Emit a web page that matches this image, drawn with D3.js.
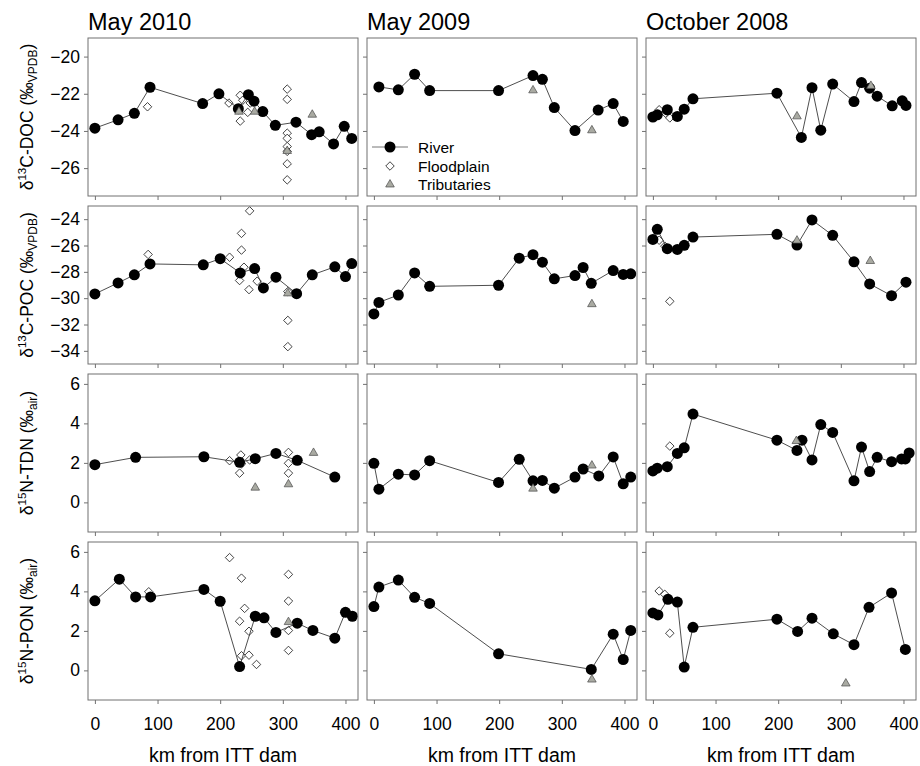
<!DOCTYPE html>
<html>
<head>
<meta charset="utf-8">
<script src="https://cdn.jsdelivr.net/npm/d3@7"></script>
<style>
  body { margin: 0; background: #fff; }
  svg { display: block; font-family: "Liberation Sans", Arial, sans-serif; }
</style>
</head>
<body>
<svg id="chart" width="920" height="766"></svg>
<script>
// Sampling campaigns (columns) and isotope variables (rows)
const campaigns = ["May 2010", "May 2009", "October 2008"];
const xTicks = [0, 100, 200, 300, 400];
const docTicks = [-20, -22, -24, -26];
const pocTicks = [-24, -26, -28, -30, -32, -34];
const nTicks = [0, 2, 4, 6];

// δ13C-DOC, [km, value]
const docRiver2010 = [[0,-23.85],[37,-23.4],[63,-23.05],[88,-21.65],[172,-22.53],[198,-22.0],[229,-22.8],[245,-22.05],[254,-22.4],[268,-22.96],[288,-23.7],[321,-23.53],[346,-24.2],[358,-24.05],[381,-24.7],[398,-23.75],[410,-24.4]];
const docFlood2010 = [[84,-22.7],[214,-22.5],[232,-22.08],[236,-22.35],[244,-23.0],[248,-22.5],[232,-23.47],[307,-21.75],[307,-22.3],[307,-24.12],[307,-24.4],[307,-24.84],[307,-25.1],[307,-25.77],[307,-26.63]];
const docTrib2010 = [[230,-22.94],[255,-22.94],[307,-25.05],[347,-23.1]];
const docRiver2009 = [[8,-21.63],[39,-21.79],[65,-20.95],[89,-21.83],[199,-21.83],[254,-21.02],[269,-21.22],[288,-22.74],[321,-23.98],[358,-22.88],[382,-22.53],[398,-23.49]];
const docFlood2009 = [];
const docTrib2009 = [[254,-21.79],[348,-23.94]];
const docRiver2008 = [[0,-23.25],[7,-23.13],[23,-22.86],[39,-23.22],[50,-22.83],[64,-22.27],[198,-21.97],[237,-24.35],[254,-21.67],[268,-23.96],[287,-21.48],[321,-22.42],[333,-21.4],[346,-21.7],[358,-22.13],[382,-22.65],[398,-22.38],[404,-22.63]];
const docFlood2008 = [[10,-22.86],[20,-23.04],[27,-23.3]];
const docTrib2008 = [[230,-23.19],[348,-21.55]];

// δ13C-POC
const pocRiver2010 = [[0,-29.68],[37,-28.84],[63,-28.23],[88,-27.4],[173,-27.47],[200,-27.0],[232,-28.08],[255,-27.75],[269,-29.22],[289,-28.41],[322,-29.66],[347,-28.23],[383,-27.62],[400,-28.36],[410,-27.37]];
const pocFlood2010 = [[85,-26.68],[215,-26.89],[247,-23.37],[234,-25.08],[234,-26.35],[238,-27.65],[231,-28.66],[246,-29.35],[259,-28.71],[308,-29.5],[308,-31.69],[308,-33.68]];
const pocTrib2010 = [[308,-29.6]];
const pocRiver2009 = [[0,-31.2],[8,-30.32],[39,-29.76],[65,-28.08],[89,-29.1],[199,-29.02],[232,-26.96],[254,-26.7],[269,-27.27],[288,-28.53],[321,-28.28],[334,-27.67],[347,-28.87],[382,-27.9],[398,-28.2],[410,-28.15]];
const pocFlood2009 = [];
const pocTrib2009 = [[348,-30.42]];
const pocRiver2008 = [[0,-25.54],[7,-24.77],[23,-26.24],[39,-26.3],[50,-25.99],[64,-25.36],[198,-25.15],[230,-25.97],[254,-24.06],[287,-25.23],[321,-27.24],[346,-28.92],[381,-29.81],[404,-28.79]];
const pocFlood2008 = [[10,-25.6],[19,-26.05],[27,-30.24]];
const pocTrib2008 = [[230,-25.59],[347,-27.14]];

// δ15N-TDN
const tdnRiver2010 = [[0,1.91],[65,2.28],[174,2.31],[231,2.03],[256,2.21],[289,2.48],[323,2.13],[383,1.28]];
const tdnFlood2010 = [[215,2.11],[233,2.4],[234,1.95],[231,1.48],[247,2.15],[309,2.53],[309,1.98],[309,1.48]];
const tdnTrib2010 = [[256,0.77],[309,0.94],[349,2.53]];
const tdnRiver2009 = [[0,1.98],[8,0.67],[39,1.43],[65,1.39],[89,2.11],[199,1.01],[232,2.18],[254,1.09],[269,1.11],[288,0.72],[321,1.28],[334,1.69],[359,1.34],[382,2.3],[398,0.94],[410,1.28]];
const tdnFlood2009 = [];
const tdnTrib2009 = [[254,0.72],[348,1.89]];
const tdnRiver2008 = [[0,1.59],[7,1.73],[23,1.81],[39,2.48],[50,2.76],[64,4.47],[198,3.15],[230,2.63],[238,3.15],[254,2.15],[268,3.94],[287,3.54],[321,1.09],[333,2.8],[346,1.56],[358,2.28],[381,2.06],[397,2.2],[403,2.2],[409,2.5]];
const tdnFlood2008 = [[27,2.85]];
const tdnTrib2008 = [[229,3.13]];

// δ15N-PON
const ponRiver2010 = [[0,3.52],[39,4.62],[65,3.72],[89,3.72],[174,4.1],[200,3.5],[231,0.19],[256,2.74],[270,2.66],[289,1.92],[323,2.39],[348,2.02],[383,1.63],[400,2.94],[411,2.74]];
const ponFlood2010 = [[86,3.98],[215,5.71],[234,4.67],[231,2.49],[239,3.14],[234,0.74],[246,1.98],[246,0.77],[258,0.3],[309,4.86],[309,3.51],[309,2.02],[309,1.01]];
const ponTrib2010 = [[309,2.47]];
const ponRiver2009 = [[0,3.23],[8,4.22],[39,4.57],[65,3.7],[89,3.39],[199,0.84],[347,0.05],[382,1.83],[398,0.55],[410,2.02]];
const ponFlood2009 = [];
const ponTrib2009 = [[348,-0.44]];
const ponRiver2008 = [[0,2.91],[8,2.81],[24,3.6],[39,3.46],[50,0.17],[64,2.18],[198,2.59],[231,1.97],[254,2.64],[288,1.85],[321,1.3],[345,3.19],[381,3.92],[403,1.06]];
const ponFlood2008 = [[10,4.02],[19,3.85],[27,1.88]];
const ponTrib2008 = [[308,-0.64]];

// Row definitions: y range, ticks, axis title pieces
const rows = [
  { domain: [-27.5, -19], ticks: docTicks, iso: "13", main: "C-DOC (", unit: "VPDB",
    series: [[docRiver2010, docFlood2010, docTrib2010], [docRiver2009, docFlood2009, docTrib2009], [docRiver2008, docFlood2008, docTrib2008]] },
  { domain: [-35, -23], ticks: pocTicks, iso: "13", main: "C-POC (", unit: "VPDB",
    series: [[pocRiver2010, pocFlood2010, pocTrib2010], [pocRiver2009, pocFlood2009, pocTrib2009], [pocRiver2008, pocFlood2008, pocTrib2008]] },
  { domain: [-1.5, 6.5], ticks: nTicks, iso: "15", main: "N-TDN (", unit: "air",
    series: [[tdnRiver2010, tdnFlood2010, tdnTrib2010], [tdnRiver2009, tdnFlood2009, tdnTrib2009], [tdnRiver2008, tdnFlood2008, tdnTrib2008]] },
  { domain: [-1.5, 6.5], ticks: nTicks, iso: "15", main: "N-PON (", unit: "air",
    series: [[ponRiver2010, ponFlood2010, ponTrib2010], [ponRiver2009, ponFlood2009, ponTrib2009], [ponRiver2008, ponFlood2008, ponTrib2008]] }
];

const colLeft = [88, 367, 646];
const rowTop = [38, 206, 374, 542];
const panelW = 270, panelH = 158;
const frameColor = "#707070";
const lineColor = "#3a3a3a";
const tribFill = "#a9aaa2";

const svg = d3.select("#chart");

const diamond = d3.symbol().type(d3.symbolSquare).size(36)();
const triangle = d3.symbol().type(d3.symbolTriangle).size(32)();
const fmt = d => String(d).replace("-", "\u2212");

function drawRiver(g, pts, x, y) {
  g.append("path")
    .datum(pts)
    .attr("fill", "none")
    .attr("stroke", lineColor)
    .attr("stroke-width", 0.9)
    .attr("d", d3.line().x(d => x(d[0])).y(d => y(d[1])));
  g.selectAll("circle.river").data(pts).join("circle")
    .attr("class", "river")
    .attr("cx", d => x(d[0])).attr("cy", d => y(d[1]))
    .attr("r", 5.5).attr("fill", "#000");
}
function drawFlood(g, pts, x, y) {
  g.selectAll("path.flood").data(pts).join("path")
    .attr("class", "flood")
    .attr("d", diamond)
    .attr("transform", d => `translate(${x(d[0])},${y(d[1])}) rotate(45)`)
    .attr("fill", "#fff").attr("stroke", "#222").attr("stroke-width", 0.8);
}
function drawTrib(g, pts, x, y) {
  g.selectAll("path.trib").data(pts).join("path")
    .attr("class", "trib")
    .attr("d", triangle)
    .attr("transform", d => `translate(${x(d[0])},${y(d[1]) + 0.5})`)
    .attr("fill", tribFill).attr("stroke", "#4a4a4a").attr("stroke-width", 0.7);
}

rows.forEach((row, ri) => {
  campaigns.forEach((camp, ci) => {
    const left = colLeft[ci], top = rowTop[ri];
    const x = d3.scaleLinear().domain([-11, 420]).range([left, left + panelW]);
    const y = d3.scaleLinear().domain(row.domain).range([top + panelH, top]);
    const g = svg.append("g");

    // y axis ticks (labels only on the first column)
    const ya = d3.axisLeft(y).tickValues(row.ticks).tickSize(4).tickPadding(4)
      .tickFormat(ci === 0 ? fmt : () => "");
    const yg = g.append("g").attr("transform", `translate(${left},0)`).call(ya);
    // x axis ticks (labels only on the bottom row)
    const xa = d3.axisBottom(x).tickValues(xTicks).tickSize(4).tickPadding(14)
      .tickFormat(ri === 3 ? fmt : () => "");
    const xg = g.append("g").attr("transform", `translate(0,${top + panelH})`).call(xa);
    [yg, xg].forEach(a => {
      a.select(".domain").remove();
      a.selectAll("line").attr("stroke", frameColor);
      a.selectAll("text").attr("fill", "#000").style("font-size", "17.5px")
        .style("font-family", '"Liberation Sans", Arial, sans-serif');
    });

    const [river, flood, trib] = row.series[ci];
    drawFlood(g, flood, x, y);
    drawRiver(g, river, x, y);
    drawTrib(g, trib, x, y);

    // panel frame
    g.append("rect")
      .attr("x", left).attr("y", top).attr("width", panelW).attr("height", panelH)
      .attr("fill", "none").attr("stroke", frameColor).attr("stroke-width", 1);

    // legend in the May 2009 DOC panel
    if (ri === 0 && ci === 1) {
      const lg = g.append("g").style("font-size", "15.5px");
      const ly = [147, 166, 184];
      lg.append("line").attr("x1", left + 5).attr("x2", left + 41)
        .attr("y1", ly[0]).attr("y2", ly[0]).attr("stroke", "#777").attr("stroke-width", 1);
      lg.append("circle").attr("cx", left + 23).attr("cy", ly[0]).attr("r", 5.5).attr("fill", "#000");
      lg.append("path").attr("d", diamond)
        .attr("transform", `translate(${left + 23},${ly[1]}) rotate(45)`)
        .attr("fill", "#fff").attr("stroke", "#222").attr("stroke-width", 0.8);
      lg.append("path").attr("d", triangle)
        .attr("transform", `translate(${left + 23},${ly[2] + 0.5})`)
        .attr("fill", tribFill).attr("stroke", "#4a4a4a").attr("stroke-width", 0.7);
      ["River", "Floodplain", "Tributaries"].forEach((t, i) => {
        lg.append("text").attr("x", left + 51).attr("y", ly[i] + 5.5).text(t);
      });
    }

    // column titles
    if (ri === 0) {
      svg.append("text").attr("x", left).attr("y", 30)
        .style("font-size", "23.5px").text(camp);
    }
    // x axis titles
    if (ri === 3) {
      svg.append("text").attr("x", left + panelW / 2).attr("y", 762)
        .attr("text-anchor", "middle").style("font-size", "19.5px").text("km from ITT dam");
    }
  });

  // y axis title with isotope superscript and unit subscript
  const cy = rowTop[ri] + panelH / 2;
  const t = svg.append("text")
    .attr("transform", `translate(33,${cy}) rotate(-90)`)
    .attr("text-anchor", "middle")
    .style("font-size", "17.5px");
  t.append("tspan").text("\u03b4");
  t.append("tspan").attr("dy", -7).style("font-size", "11.5px").text(row.iso);
  t.append("tspan").attr("dy", 7).text(row.main + "\u2030");
  t.append("tspan").attr("dy", 4).style("font-size", "12px").text(row.unit);
  t.append("tspan").attr("dy", -4).text(")");
});
</script>
</body>
</html>
